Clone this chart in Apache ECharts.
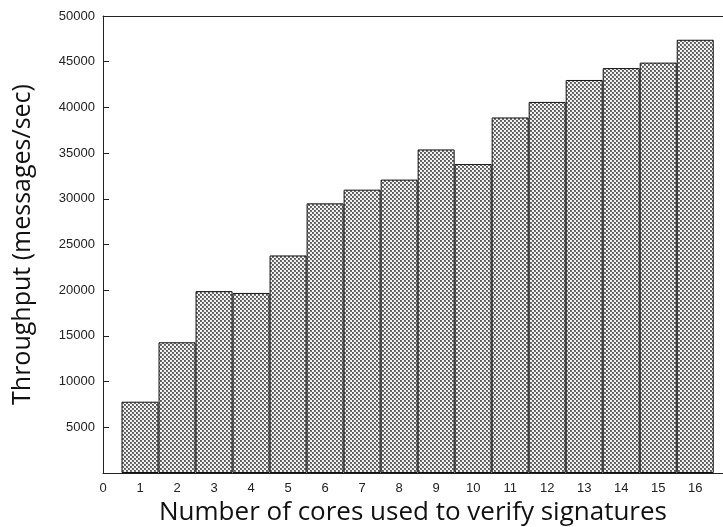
<!DOCTYPE html>
<html>
<head>
<meta charset="utf-8">
<script src="https://cdn.jsdelivr.net/npm/echarts@6/dist/echarts.min.js"></script>
<style>
html,body{margin:0;padding:0;background:#fff;}
#chart{width:723px;height:527px;}
</style>
</head>
<body>
<div id="chart"></div>
<script>
// Data
const cores = [1, 2, 3, 4, 5, 6, 7, 8, 9, 10, 11, 12, 13, 14, 15, 16];
const throughput = [7800, 14300, 19900, 19700, 23800, 29500, 31000, 32100, 35400, 33800, 38900, 40600, 43000, 44300, 44900, 47400];
const xTickLabels = ['0','1','2','3','4','5','6','7','8','9','10','11','12','13','14','15','16'];
const yTickLabels = ['5000','10000','15000','20000','25000','30000','35000','40000','45000','50000'];

// crosshatch (checker-looking) pattern tile
function makePattern() {
  const c = document.createElement('canvas');
  c.width = 4; c.height = 4;
  const ctx = c.getContext('2d');
  ctx.fillStyle = '#f2f2f2';
  ctx.fillRect(0, 0, 4, 4);
  ctx.fillStyle = '#6e6e6e';
  ctx.fillRect(0, 0, 2, 2);
  ctx.fillRect(2, 2, 2, 2);
  ctx.fillStyle = '#555555';
  ctx.fillRect(0, 0, 1, 1);
  ctx.fillRect(2, 2, 1, 1);
  return c;
}

const chart = echarts.init(document.getElementById('chart'), null, {renderer: 'canvas'});
const tickFont = {fontFamily: 'Liberation Sans', fontSize: 13, color: '#222'};
const option = {
  animation: false,
  backgroundColor: '#fff',
  grid: {left: 103, right: 0, top: 16, bottom: 54, containLabel: false, outerBoundsMode: 'none'},
  xAxis: [{
    type: 'value', min: 0, max: 16.75, interval: 1,
    axisLine: {show: true, lineStyle: {color: '#222', width: 1}},
    axisTick: {show: false},
    splitLine: {show: false},
    axisLabel: Object.assign({
      margin: 9,
      showMaxLabel: false,
      formatter: v => (Number.isInteger(v) && xTickLabels[v] !== undefined) ? xTickLabels[v] : ''
    }, tickFont),
    name: 'Number of cores used to verify signatures',
    nameLocation: 'middle', nameGap: 22,
    nameTextStyle: {fontFamily: 'Open Sans', fontSize: 26, color: '#111'}
  }, {
    type: 'value', min: 0, max: 16.75, position: 'top',
    axisLine: {show: true, onZero: false, lineStyle: {color: '#222', width: 1}},
    axisTick: {show: false}, axisLabel: {show: false}, splitLine: {show: false}
  }],
  yAxis: {
    type: 'value', min: 0, max: 50000, interval: 5000,
    axisLine: {show: true, lineStyle: {color: '#222', width: 1}},
    axisTick: {show: true, inside: true, length: 6, lineStyle: {color: '#222'}},
    splitLine: {show: false},
    axisLabel: Object.assign({
      margin: 8,
      formatter: v => { const s = String(v); return yTickLabels.indexOf(s) >= 0 ? s : ''; }
    }, tickFont),
    name: 'Throughput (messages/sec)',
    nameLocation: 'middle', nameGap: 68,
    nameTextStyle: {fontFamily: 'Open Sans', fontSize: 25, color: '#111'}
  },
  series: [{
    type: 'bar',
    xAxisIndex: 0,
    data: cores.map((c, i) => [c, throughput[i]]),
    barWidth: '100%',
    itemStyle: {
      color: {image: makePattern(), repeat: 'repeat'},
      borderColor: '#111', borderWidth: 1
    }
  }]
};
chart.setOption(option);
</script>
</body>
</html>
